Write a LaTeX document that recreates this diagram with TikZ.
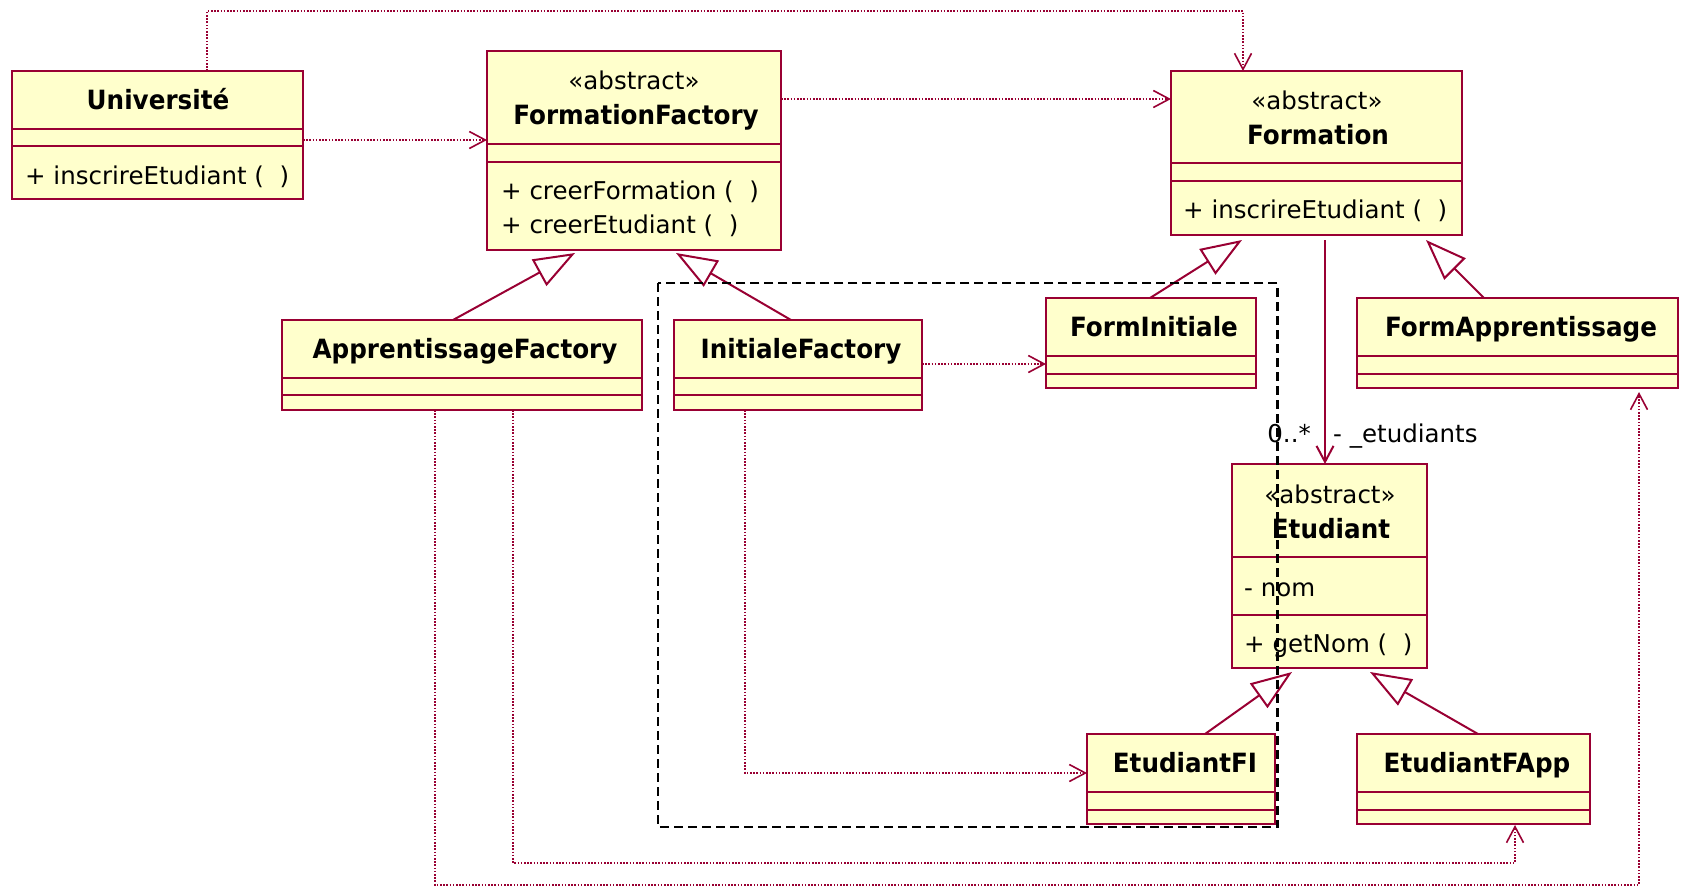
\documentclass[tikz,border=0pt]{standalone}
\usepackage{fontspec}
\setmainfont{DejaVu Sans}
\newfontfamily\classnamefont[FakeStretch=0.93]{DejaVu Sans}
\usetikzlibrary{arrows.meta,calc}
\definecolor{umlline}{RGB}{153,0,51}
\definecolor{umlfill}{RGB}{255,255,204}

% two horizontal compartment separators of a class box
\newcommand{\compartments}[3]{%
  \draw[sepline] ($(#1.north west)+(0,#2)$) -- ($(#1.north east)+(0,#2)$);
  \draw[sepline] ($(#1.north west)+(0,#3)$) -- ($(#1.north east)+(0,#3)$);}

\begin{document}
\begin{tikzpicture}[x=1pt,y=-1pt,
  classbox/.style={draw=umlline, fill=umlfill, line width=2pt, rectangle,
    inner sep=0pt, outer sep=0pt, anchor=north west},
  sepline/.style={draw=umlline, line width=2pt},
  txt/.style={inner sep=0pt, text=black, font=\fontsize{24.5}{28}\selectfont},
  cname/.style={txt, font=\classnamefont\fontsize{26.5}{30}\selectfont\bfseries, anchor=base},
  stereo/.style={txt, anchor=base},
  member/.style={txt, anchor=base west},
  gen/.style={draw=umlline, line width=2pt,
    -{Triangle[length=41pt,width=30pt,fill=white,line width=2pt]}},
  assoc/.style={draw=umlline, line width=2pt,
    -{Straight Barb[length=16pt,width=17pt,line width=2pt]}},
  dep/.style={draw=umlline, line width=1.6pt, dash pattern=on 1.6pt off 1.6pt,
    -{Straight Barb[length=16pt,width=17pt,line width=1.6pt]}},
  pkg/.style={draw=black, line width=2.6pt, dash pattern=on 9pt off 5pt}
]
\useasboundingbox (0,0) rectangle (1685,887);

% ---------- class boxes ----------
\node[classbox, minimum width=291pt, minimum height=128pt] (univ)  at (12,71)   {};
\node[classbox, minimum width=294pt, minimum height=199pt] (ff)    at (487,51)  {};
\node[classbox, minimum width=291pt, minimum height=164pt] (form)  at (1171,71) {};
\node[classbox, minimum width=360pt, minimum height=90pt]  (af)    at (282,320) {};
\node[classbox, minimum width=248pt, minimum height=90pt]  (if)    at (674,320) {};
\node[classbox, minimum width=210pt, minimum height=90pt]  (fi)    at (1046,298) {};
\node[classbox, minimum width=321pt, minimum height=90pt]  (fapp)  at (1357,298) {};
\node[classbox, minimum width=195pt, minimum height=204pt] (etud)  at (1232,464) {};
\node[classbox, minimum width=188pt, minimum height=90pt]  (efi)   at (1087,734) {};
\node[classbox, minimum width=233pt, minimum height=90pt]  (efapp) at (1357,734) {};

\compartments{univ}{58}{75}
\compartments{ff}{93}{111}
\compartments{form}{92}{110}
\compartments{af}{58}{75}
\compartments{if}{58}{75}
\compartments{fi}{58}{76}
\compartments{fapp}{58}{76}
\compartments{etud}{93}{151}
\compartments{efi}{58}{76}
\compartments{efapp}{58}{76}

% ---------- texts ----------
\node[cname]  (univName) at (158,109) {Université};
\node[member] (univM1)   at (25,184)  {+ inscrireEtudiant (\ \ )};

\node[stereo] (ffSt)   at (634,89)  {«abstract»};
\node[cname]  (ffName) at (636,124) {FormationFactory};
\node[member] (ffM1)   at (501,199) {+ creerFormation (\ \ )};
\node[member] (ffM2)   at (501,233) {+ creerEtudiant (\ \ )};

\node[stereo] (formSt)   at (1317,109) {«abstract»};
\node[cname]  (formName) at (1318,144) {Formation};
\node[member] (formM1)   at (1183,218) {+ inscrireEtudiant (\ \ )};

\node[cname] (afName)    at (465,358)  {ApprentissageFactory};
\node[cname] (ifName)    at (801,358)  {InitialeFactory};
\node[cname] (fiName)    at (1154,336) {FormInitiale};
\node[cname] (fappName)  at (1521,336) {FormApprentissage};

\node[stereo] (etudSt)   at (1330,503) {«abstract»};
\node[cname]  (etudName) at (1331,538) {Etudiant};
\node[member] (etudA1)   at (1244,596) {- nom};
\node[member] (etudM1)   at (1244,652) {+ getNom (\ \ )};

\node[cname] (efiName)   at (1185,772) {EtudiantFI};
\node[cname] (efappName) at (1477,772) {EtudiantFApp};

% ---------- generalizations ----------
\draw[gen] ($(af.north west)+(171,0)$)    -- ($(ff.south west)+(88,3)$);
\draw[gen] ($(if.north west)+(117,0)$)    -- ($(ff.south west)+(189,3)$);
\draw[gen] ($(fi.north west)+(104,0)$)    -- ($(form.south west)+(71,5)$);
\draw[gen] ($(fapp.north west)+(127,0)$)  -- ($(form.south west)+(255,5)$);
\draw[gen] ($(efi.north west)+(118,0)$)   -- ($(etud.south west)+(60,4)$);
\draw[gen] ($(efapp.north west)+(121,0)$) -- ($(etud.south west)+(138,4)$);

% ---------- association ----------
\draw[assoc] ($(form.south west)+(154,5)$) -- ($(etud.north west)+(93,0)$);
\node[txt, anchor=base east] (mult) at (1311,442) {0..*};
\node[txt, anchor=base west] (role) at (1333,442) {- \_etudiants};

% ---------- dependencies ----------
\coordinate (railTop) at (700,11);
\coordinate (railMid) at (1000,863);
\coordinate (railLow) at (1000,885);

\draw[dep] ($(univ.north west)+(195,0)$) |- (railTop) -| ($(form.north west)+(72,0)$);
\draw[dep] ($(univ.north east)+(0,69)$) -- ($(ff.north west)+(0,89)$);
\draw[dep] ($(ff.north east)+(0,48)$) -- ($(form.north west)+(0,28)$);
\draw[dep] ($(if.north east)+(0,44)$) -- ($(fi.north west)+(0,66)$);
\draw[dep] ($(if.south west)+(71,0)$) |- ($(efi.north west)+(0,39)$);
\draw[dep] ($(af.south west)+(231,0)$) |- (railMid) -| ($(efapp.south west)+(158,1)$);
\draw[dep] ($(af.south west)+(153,0)$) |- (railLow) -| ($(fapp.south west)+(282,4)$);

% ---------- dashed grouping frame ----------
\draw[pkg] (658,283) rectangle (1277.7,827);
\end{tikzpicture}
\end{document}
